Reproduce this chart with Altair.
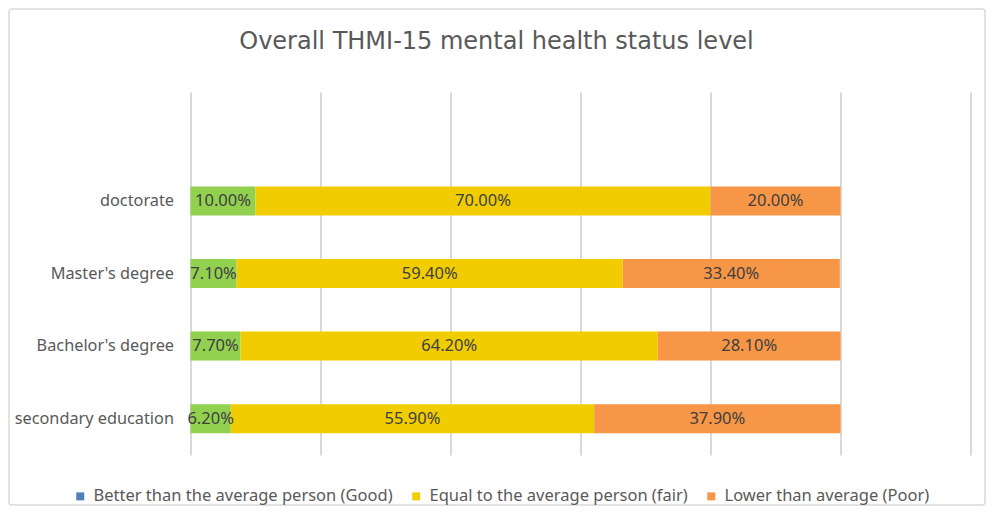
import altair as alt
import pandas as pd

categories = ["doctorate", "Master's degree", "Bachelor's degree", "secondary education"]
series = [
    "Better than the average person (Good)",
    "Equal to the average person (fair)",
    "Lower than average (Poor)",
]
good = [10.0, 7.1, 7.7, 6.2]
fair = [70.0, 59.4, 64.2, 55.9]
poor = [20.0, 33.4, 28.1, 37.9]

bar_colors = ["#92D050", "#F0CC00", "#F79646"]
legend_colors = ["#4F81BD", "#F0CC00", "#F79646"]

rows = []
for i, cat in enumerate(categories):
    start = 0.0
    for s, vals in zip(series, [good, fair, poor]):
        v = vals[i]
        rows.append({
            "category": cat,
            "series": s,
            "value": v,
            "start": start,
            "end": start + v,
            "mid": start + v / 2,
            "label": f"{v:.2f}%",
        })
        start += v
df = pd.DataFrame(rows)

y_domain = [" "] + categories
FONT = "Noto Sans"

y_enc = alt.Y(
    "category:N",
    scale=alt.Scale(domain=y_domain, paddingInner=0.6, paddingOuter=0.3),
    axis=alt.Axis(title=None, domain=False, ticks=False, grid=False,
                  labelFontSize=16.3, labelColor="#595959", labelFont=FONT,
                  labelPadding=17),
)
x_scale = alt.Scale(domain=[0, 120], nice=False, zero=True)

base = alt.Chart(df)

bars = base.mark_bar().encode(
    x=alt.X("start:Q", scale=x_scale,
            axis=alt.Axis(title=None, labels=False, ticks=False, domain=False,
                          values=[0, 20, 40, 60, 80, 100, 120],
                          gridColor="#D9D9D9", gridWidth=2)),
    x2="end:Q",
    y=y_enc,
    color=alt.Color("series:N", scale=alt.Scale(domain=series, range=bar_colors), legend=None),
)

legend_layer = base.mark_bar(opacity=0).encode(
    x=alt.X("start:Q", scale=x_scale),
    x2="start:Q",
    y=y_enc,
    fill=alt.Fill(
        "series:N",
        scale=alt.Scale(domain=series, range=legend_colors),
        legend=alt.Legend(
            title=None, orient="none", direction="horizontal",
            legendX=-118.5, legendY=396,
            symbolType="square", symbolSize=64, symbolOpacity=1,
            symbolStrokeWidth=0,
            labelFontSize=16.5, labelColor="#595959", labelFont=FONT,
            columnPadding=15, labelOffset=5, labelLimit=400,
        ),
    ),
)

labels = base.mark_text(fontSize=16.5, color="#404040", font=FONT).encode(
    x=alt.X("mid:Q", scale=x_scale),
    y=y_enc,
    text="label:N",
)

frame = alt.Chart(pd.DataFrame({"k": [0]})).mark_rect(
    fill=None, stroke="#D9D9D9", strokeWidth=1.5, cornerRadius=3
).encode(
    x=alt.value(-181.5), x2=alt.value(794.5),
    y=alt.value(-83), y2=alt.value(413),
)

chart = alt.layer(frame, bars, legend_layer, labels).resolve_scale(
    color="independent", fill="independent"
).properties(
    width=780,
    height=363,
    padding={"left": 182.5, "top": 84, "right": 15.5, "bottom": 53},
    autosize=alt.AutoSizeParams(type="none"),
    background="white",
    title=alt.TitleParams(
        "Overall THMI-15 mental health status level",
        fontSize=24, font="DejaVu Sans", fontWeight="normal", color="#595959",
        anchor="middle", frame="group", dx=-84, offset=-65,
        baseline="alphabetic",
    ),
).configure_view(stroke=None)

chart.save("out.html", embed_options={"renderer": "svg", "actions": False})
